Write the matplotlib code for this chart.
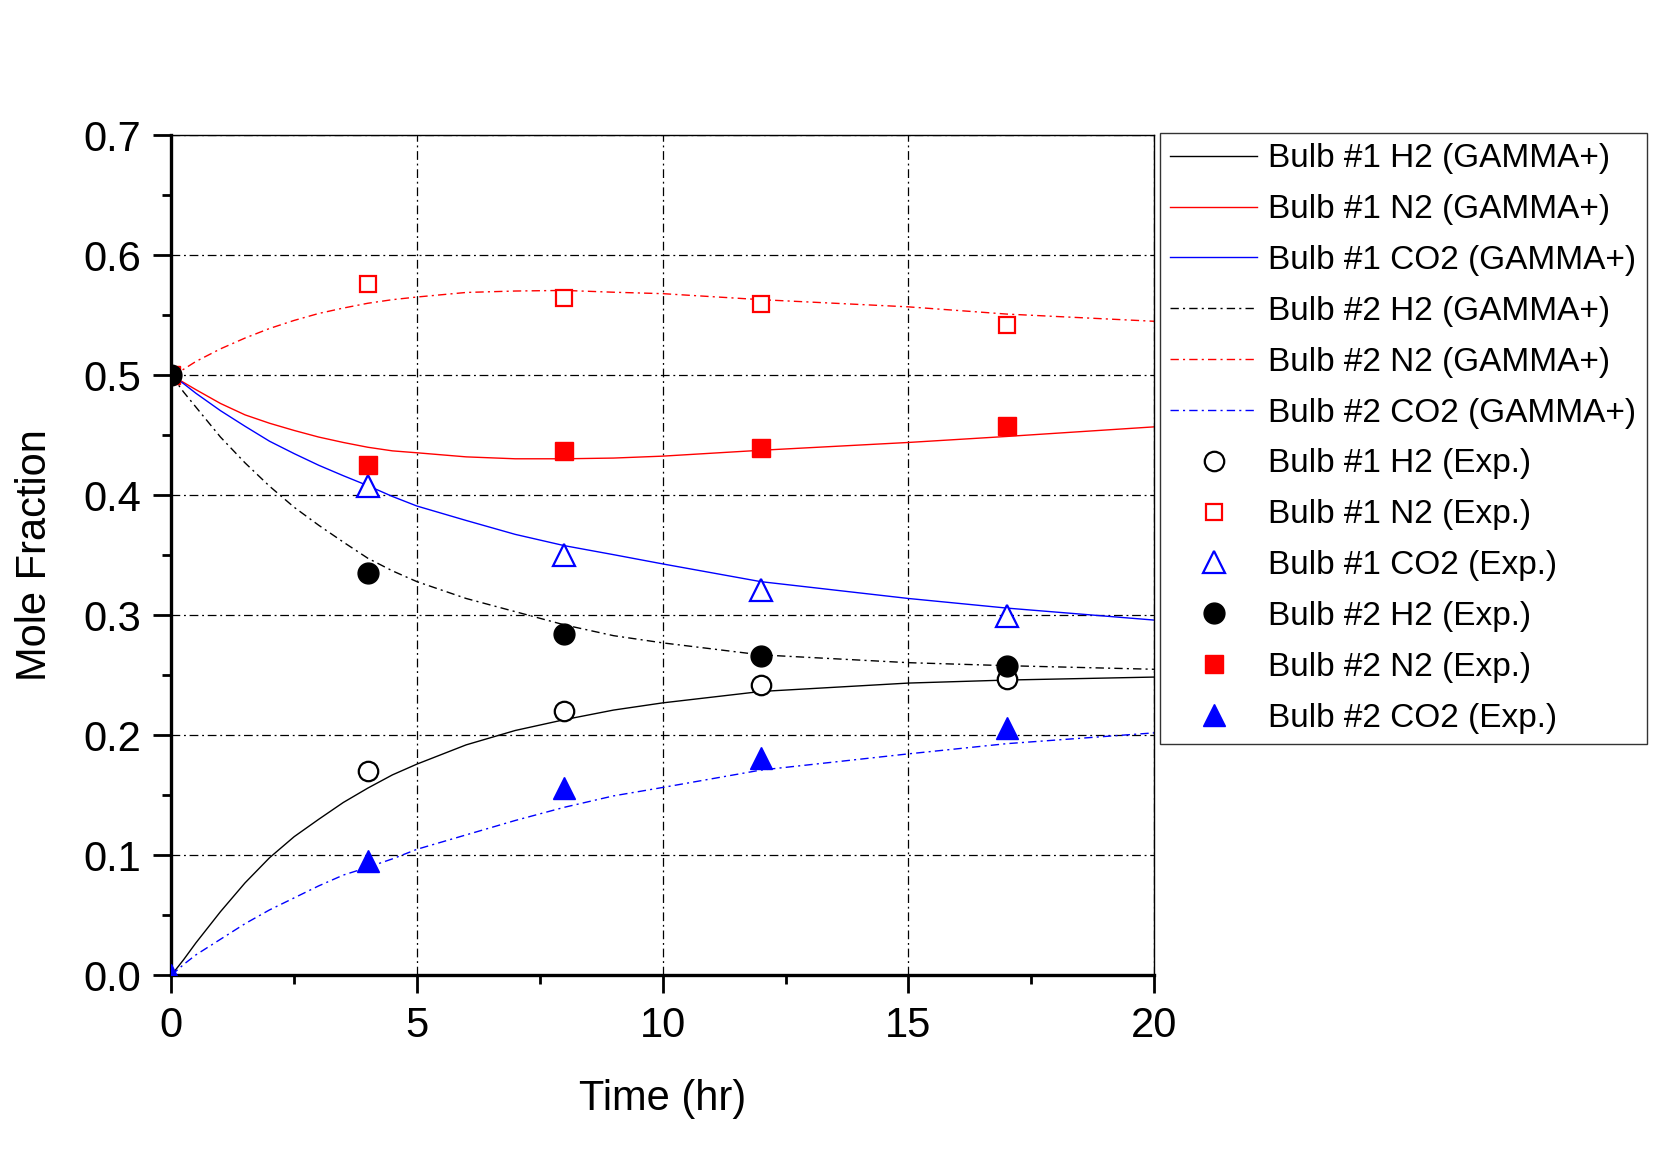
import matplotlib
matplotlib.use('Agg')
import matplotlib.pyplot as plt
from matplotlib.ticker import MultipleLocator

plt.rcParams['font.family'] = ['Liberation Sans', 'DejaVu Sans']

# GAMMA+ model curves
t_model = [0, 0.25, 0.5, 1, 1.5, 2, 2.5, 3, 3.5, 4, 4.5, 5, 6, 7, 8, 9, 10, 12, 15, 17, 20]
b1_h2_model = [0.0, 0.013, 0.027, 0.053, 0.077, 0.098, 0.1155, 0.130, 0.144, 0.156, 0.167,
               0.176, 0.192, 0.204, 0.213, 0.221, 0.227, 0.2365, 0.2435, 0.246, 0.2485]
b1_n2_model = [0.5, 0.494, 0.488, 0.4765, 0.467, 0.460, 0.454, 0.4485, 0.444, 0.440, 0.437,
               0.4354, 0.432, 0.4304, 0.4304, 0.431, 0.4326, 0.4375, 0.444, 0.449, 0.457]
b1_co2_model = [0.5, 0.493, 0.485, 0.4705, 0.4575, 0.445, 0.4347, 0.425, 0.4163, 0.408,
                0.399, 0.391, 0.379, 0.3674, 0.358, 0.3505, 0.3428, 0.328, 0.314, 0.306, 0.296]
b2_h2_model = [0.5, 0.486, 0.4735, 0.4485, 0.427, 0.4075, 0.390, 0.375, 0.361, 0.3475,
               0.337, 0.328, 0.314, 0.303, 0.292, 0.283, 0.277, 0.267, 0.2605, 0.258, 0.255]
b2_n2_model = [0.5, 0.505, 0.5115, 0.522, 0.531, 0.539, 0.5457, 0.5515, 0.556, 0.560,
               0.563, 0.5652, 0.569, 0.5702, 0.5707, 0.5692, 0.568, 0.563, 0.557, 0.551, 0.545]
b2_co2_model = [0.0, 0.009, 0.017, 0.030, 0.043, 0.0545, 0.0645, 0.0745, 0.0835, 0.090,
                0.097, 0.105, 0.117, 0.129, 0.140, 0.1495, 0.1565, 0.171, 0.1845, 0.193, 0.202]

# experimental points
t_exp1 = [4, 8, 12, 17]
b1_h2_exp = [0.170, 0.220, 0.2415, 0.247]
b1_n2_exp = [0.576, 0.5643, 0.559, 0.542]
b1_co2_exp = [0.4075, 0.3505, 0.321, 0.299]

t_exp2 = [0, 4, 8, 12, 17]
b2_h2_exp = [0.5, 0.335, 0.284, 0.266, 0.258]
b2_n2_exp = [0.5, 0.4256, 0.437, 0.439, 0.458]
b2_co2_exp = [0.0, 0.0953, 0.156, 0.181, 0.206]

dashdot = (0, (6, 3, 1.5, 3))

fig = plt.figure(figsize=(16.65, 11.68), dpi=100)
ax = fig.add_axes([0.1029, 0.165, 0.5902, 0.7192])

lw = 1.0
ax.plot(t_model, b1_h2_model, color='black', lw=lw, label='Bulb #1 H2 (GAMMA+)')
ax.plot(t_model, b1_n2_model, color='red', lw=lw, label='Bulb #1 N2 (GAMMA+)')
ax.plot(t_model, b1_co2_model, color='blue', lw=lw, label='Bulb #1 CO2 (GAMMA+)')
ax.plot(t_model, b2_h2_model, color='black', lw=lw, ls=dashdot, label='Bulb #2 H2 (GAMMA+)')
ax.plot(t_model, b2_n2_model, color='red', lw=lw, ls=dashdot, label='Bulb #2 N2 (GAMMA+)')
ax.plot(t_model, b2_co2_model, color='blue', lw=lw, ls=dashdot, label='Bulb #2 CO2 (GAMMA+)')

ax.plot(t_exp1, b1_h2_exp, 'o', ms=14, mfc='white', mec='black', mew=1.6,
        label='Bulb #1 H2 (Exp.)', zorder=4)
ax.plot(t_exp1, b1_n2_exp, 's', ms=12, mfc='white', mec='red', mew=1.6,
        label='Bulb #1 N2 (Exp.)', zorder=4)
ax.plot(t_exp1, b1_co2_exp, '^', ms=16, mfc='white', mec='blue', mew=1.6,
        label='Bulb #1 CO2 (Exp.)', zorder=4)
ax.plot(t_exp2, b2_h2_exp, 'o', ms=15, color='black', label='Bulb #2 H2 (Exp.)', zorder=6)
ax.plot(t_exp2, b2_n2_exp, 's', ms=13, color='red', label='Bulb #2 N2 (Exp.)', zorder=5)
ax.plot(t_exp2, b2_co2_exp, '^', ms=16, color='blue', label='Bulb #2 CO2 (Exp.)', zorder=5)

ax.set_xlim(0, 20)
ax.set_ylim(0, 0.7)
ax.xaxis.set_major_locator(MultipleLocator(5))
ax.xaxis.set_minor_locator(MultipleLocator(2.5))
ax.yaxis.set_major_locator(MultipleLocator(0.1))
ax.yaxis.set_minor_locator(MultipleLocator(0.05))
ax.set_xticks([0, 5, 10, 15, 20])
ax.set_xticklabels(['0', '5', '10', '15', '20'])
ax.set_yticklabels(['%.1f' % v for v in ax.get_yticks()])

ax.grid(which='major', color='black', lw=0.9, ls=(0, (7, 3, 1.5, 3)), zorder=0)
ax.set_axisbelow(True)

ax.tick_params(which='both', direction='out', top=False, right=False, labelsize=30,
               width=2)
ax.tick_params(which='major', length=13, pad=9)
ax.tick_params(which='minor', length=6.5)

ax.spines['left'].set_linewidth(2.4)
ax.spines['bottom'].set_linewidth(2.4)
ax.spines['top'].set_linewidth(1.0)
ax.spines['right'].set_linewidth(1.0)

ax.set_xlabel('Time (hr)', fontsize=30, labelpad=24)
ax.set_ylabel('Mole Fraction', fontsize=30, labelpad=20)

leg = fig.legend(loc='upper left', bbox_to_anchor=(0.6964, 0.8864), borderaxespad=0,
                 fontsize=24, numpoints=1, handlelength=2.6, handletextpad=0.33,
                 labelspacing=0.595, borderpad=0.32, fancybox=False, frameon=True)
leg.get_frame().set_edgecolor('black')
leg.get_frame().set_linewidth(1.0)

fig.savefig('out.png', dpi=100, facecolor='white')
